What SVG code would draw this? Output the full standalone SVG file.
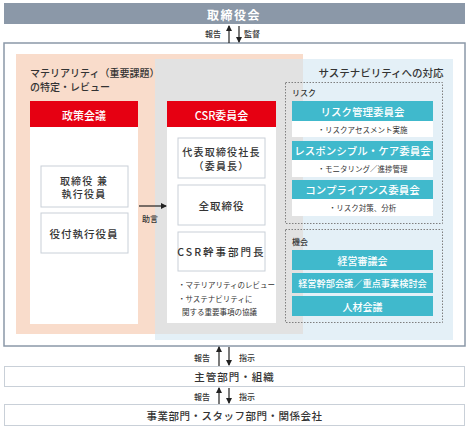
<svg xmlns="http://www.w3.org/2000/svg" width="468" height="429" viewBox="0 0 468 429">
<defs>
<marker id="ah" viewBox="0 0 6 6" refX="5" refY="3" markerWidth="6" markerHeight="6" markerUnits="userSpaceOnUse" orient="auto">
<path d="M0,0 L6,3 L0,6 z" fill="#222"/>
</marker>
<style>
text{font-family:"Noto Sans CJK JP","Noto Sans",sans-serif;fill:#333;text-anchor:middle;dominant-baseline:central}
.w{fill:#fff;font-weight:bold}
.box{fill:#fff;stroke:#c9d0d8;stroke-width:1}
.red{fill:#e60012}
.teal{fill:#40b9cc}
.dot{fill:none;stroke:#7f7f7f;stroke-width:1;stroke-dasharray:1.5 1.5}
.arr{stroke:#222;stroke-width:1.2;fill:none;marker-end:url(#ah)}
.lbl{font-size:8px;font-weight:500}
.bx{font-size:10.5px;font-weight:500;letter-spacing:1px}
.bx2{font-size:10px;font-weight:500;letter-spacing:1.2px}
.sub{font-size:7.5px}
.l{text-anchor:start}
</style>
</defs>
<rect width="468" height="429" fill="#fff"/>

<g id="board">
<rect x="4" y="3" width="461" height="21" fill="#8b98a8"/>
<text x="234" y="14" class="w" style="font-size:12px;letter-spacing:1.5px">取締役会</text>
</g>

<g id="frame">
<rect x="4" y="43" width="461" height="303" fill="#fff" stroke="#8b98a8" stroke-width="1.5"/>
<rect x="155" y="59" width="298" height="281" fill="#e4f0f7"/>
<rect x="16" y="54" width="287" height="280" fill="#f9dccb"/>
<rect x="155" y="59" width="148" height="275" fill="#e2e2e2"/>
<text x="30" y="72.5" class="l" style="font-size:10px;font-weight:500">マテリアリティ（重要課題）</text>
<text x="30" y="86" class="l" style="font-size:10px;font-weight:500">の特定・レビュー</text>
<text x="381" y="72" style="font-size:10.5px;font-weight:500">サステナビリティへの対応</text>
</g>

<g id="seisaku">
<rect x="30" y="127" width="108" height="197" fill="#fff"/>
<rect x="30" y="101" width="108" height="26" class="red"/>
<text x="84" y="114.5" class="w" style="font-size:11px;font-weight:500">政策会議</text>
</g>
<g id="torishimari-kane">
<rect x="41" y="166" width="87" height="41" class="box"/>
<text x="84" y="180" class="bx2">取締役 兼</text>
<text x="84" y="193.5" class="bx2">執行役員</text>
</g>
<g id="yakutsuki">
<rect x="41" y="213" width="87" height="40" class="box"/>
<text x="84" y="233.5" class="bx">役付執行役員</text>
</g>

<g id="csr">
<rect x="167" y="127" width="109" height="196" fill="#fff"/>
<rect x="167" y="101" width="109" height="26" class="red"/>
<text x="221.5" y="114.5" class="w" style="font-size:11px;font-weight:500">CSR委員会</text>
<text x="178" y="284" class="sub l">・マテリアリティのレビュー</text>
<text x="178" y="298" class="sub l">・サステナビリティに</text>
<text x="182" y="311" class="sub l">関する重要事項の協議</text>
</g>
<g id="shacho">
<rect x="178" y="138" width="87" height="40" class="box"/>
<text x="221.5" y="151.5" class="bx2">代表取締役社長</text>
<text x="221.5" y="165" class="bx2">（委員長）</text>
</g>
<g id="zen">
<rect x="178" y="185" width="87" height="40" class="box"/>
<text x="221.5" y="205" class="bx">全取締役</text>
</g>
<g id="kanji">
<rect x="178" y="232" width="87" height="39" class="box"/>
<text x="221.5" y="251.5" class="bx" style="letter-spacing:2px">CSR幹事部門長</text>
</g>

<g id="risk">
<rect x="285.5" y="82.5" width="157" height="141" class="dot"/>
<text x="292" y="92" class="lbl l">リスク</text>
</g>
<g id="risk-kanri">
<rect x="292" y="101" width="141" height="20" class="teal"/>
<rect x="292" y="121" width="141" height="16" fill="#fff"/>
<text x="362.5" y="111" class="w" style="font-size:10.5px;font-weight:500">リスク管理委員会</text>
<text x="362.5" y="129" class="sub">・リスクアセスメント実施</text>
</g>
<g id="rc">
<rect x="292" y="141" width="141" height="19" class="teal"/>
<rect x="292" y="160" width="141" height="17" fill="#fff"/>
<text x="362.5" y="150.5" class="w" style="font-size:10.5px;font-weight:500">レスポンシブル・ケア委員会</text>
<text x="362.5" y="168.5" class="sub">・モニタリング／進捗管理</text>
</g>
<g id="compliance">
<rect x="292" y="180" width="141" height="19" class="teal"/>
<rect x="292" y="199" width="141" height="17" fill="#fff"/>
<text x="362.5" y="189.5" class="w" style="font-size:10.5px;font-weight:500">コンプライアンス委員会</text>
<text x="362.5" y="207.5" class="sub">・リスク対策、分析</text>
</g>

<g id="kikai">
<rect x="285.5" y="229.5" width="157" height="93" class="dot"/>
<text x="292" y="241" class="lbl l">機会</text>
</g>
<g id="shingikai">
<rect x="292" y="250" width="141" height="20" class="teal"/>
<text x="362.5" y="260" class="w" style="font-size:10px;font-weight:500">経営審議会</text>
</g>
<g id="kanbu">
<rect x="292" y="273" width="141" height="20" class="teal"/>
<text x="362.5" y="283" class="w" style="font-size:9.2px;font-weight:500">経営幹部会議／重点事業検討会</text>
</g>
<g id="jinzai">
<rect x="292" y="296" width="141" height="20" class="teal"/>
<text x="362.5" y="306" class="w" style="font-size:10px;font-weight:500">人材会議</text>
</g>

<g id="shukan">
<rect x="4.5" y="366.5" width="460" height="20" class="box"/>
<text x="234.5" y="376.5" class="bx">主管部門・組織</text>
</g>
<g id="jigyo">
<rect x="4.5" y="404.5" width="460" height="21" class="box"/>
<text x="234.5" y="415" class="bx" style="letter-spacing:0.5px">事業部門・スタッフ部門・関係会社</text>
</g>

<g id="connectors">
<line x1="229" y1="43" x2="229" y2="26" class="arr"/>
<line x1="239" y1="26" x2="239" y2="42" class="arr"/>
<text x="213" y="33" class="lbl">報告</text>
<text x="252" y="33" class="lbl">監督</text>
<line x1="139" y1="206" x2="166" y2="206" class="arr"/>
<text x="150" y="218" class="lbl">助言</text>
<line x1="219" y1="366" x2="219" y2="347" class="arr"/>
<line x1="229" y1="347" x2="229" y2="365" class="arr"/>
<text x="202" y="357" class="lbl">報告</text>
<text x="247" y="357" class="lbl">指示</text>
<line x1="219" y1="404" x2="219" y2="388" class="arr"/>
<line x1="229" y1="388" x2="229" y2="403" class="arr"/>
<text x="202" y="396" class="lbl">報告</text>
<text x="247" y="396" class="lbl">指示</text>
</g>
</svg>
